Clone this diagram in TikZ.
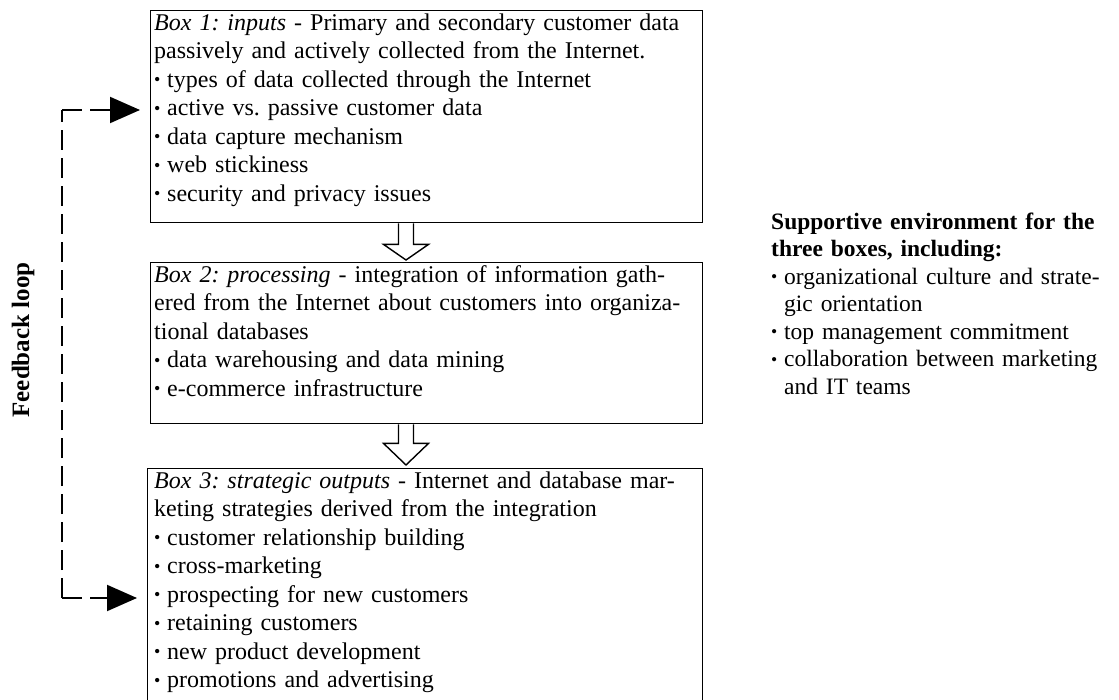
\documentclass[tikz,border=0pt]{standalone}
\usepackage{graphicx}
\usepackage{fontspec}
\setmainfont{Liberation Serif}
\usetikzlibrary{arrows.meta,calc}
\newcommand\bul{\makebox[13pt][l]{\raisebox{1.6pt}{\scalebox{0.75}{•}}}}
\newcommand\jl[1]{\leavevmode\hbox to 544pt{#1}}
\tikzset{
  box/.style={draw, line width=1.4pt, minimum width=552pt, anchor=north west, inner sep=0pt},
  boxtext/.style={anchor=north west, inner sep=0pt, text width=544pt, align=left,
                  font=\fontsize{24}{28.5}\selectfont\frenchspacing},
  fb/.style={line width=2pt, dash pattern=on 20pt off 8pt},
  fbtip/.style={-{Triangle[length=30pt,width=26pt]}, shorten >=10pt},
  hollow/.style={draw, line width=1.4pt, fill=white, line join=miter},
}
\begin{document}
\begin{tikzpicture}[x=1pt,y=-1pt]
\useasboundingbox (0,0) rectangle (1119,700);
\clip (0,0) rectangle (1119,700);

% boxes
\node[box, minimum height=212pt] (b1) at (150,10) {};
\node[box, minimum height=161pt] (b2) at (150,262) {};
\node[box, minimum height=250pt, minimum width=555pt] (b3) at (147,468) {};

\node[boxtext] (t1) at ($(b1.north west)+(4,0)$) {%
\jl{\strut\textit{Box 1: inputs} - Primary and secondary customer data}\\
passively and actively collected from the Internet.\\
\bul types of data collected through the Internet\\
\bul active vs. passive customer data\\
\bul data capture mechanism\\
\bul web stickiness\\
\bul security and privacy issues};

\node[boxtext] (t2) at ($(b2.north west)+(4,0)$) {%
\jl{\strut\textit{Box 2: processing} - integration of information gath-}\\
\jl{ered from the Internet about customers into organiza-}\\
tional databases\\
\bul data warehousing and data mining\\
\bul e-commerce infrastructure};

\node[boxtext] (t3) at ($(b3.north west)+(7,0)$) {%
\jl{\strut\textit{Box 3: strategic outputs} - Internet and database mar-}\\
keting strategies derived from the integration\\
\bul customer relationship building\\
\bul cross-marketing\\
\bul prospecting for new customers\\
\bul retaining customers\\
\bul new product development\\
\bul promotions and advertising};

% right-hand text
\node[anchor=north west, inner sep=0pt, text width=345pt, align=left,
      font=\fontsize{23.5}{27.5}\selectfont\frenchspacing] (env) at (771,209.75) {%
\strut\textbf{Supportive environment for the}\\
\textbf{three boxes, including:}\\
\bul organizational culture and strate-\\
\hspace*{13pt}gic orientation\\
\bul top management commitment\\
\bul collaboration between marketing\\
\hspace*{13pt}and IT teams};

% hollow arrows between boxes
\coordinate (a1) at ($(b1.south west)+(256,0)$);
\coordinate (a1t) at ($(a1 |- b2.north)+(0,-2)$);
\draw[hollow] ($(a1)+(-7.5,0)$) -- ++(0,21) -- ++(-15,0) -- (a1t)
  -- ($(a1)+(22.5,21)$) -- ++(-15,0) -- ($(a1)+(7.5,0)$);
\coordinate (a2) at ($(b2.south west)+(256,0)$);
\coordinate (a2t) at ($(a2 |- b3.north)+(0,-3)$);
\draw[hollow] ($(a2)+(-7.5,0)$) -- ++(0,19) -- ++(-15,0) -- (a2t)
  -- ($(a2)+(22.5,19)$) -- ++(-15,0) -- ($(a2)+(7.5,0)$);

% feedback loop
\coordinate (fbtop) at (62,110);
\coordinate (fbbot) at (62,598);
\draw[fb] (fbbot) -- (fbtop);
\draw[fb, fbtip] (fbtop) -- (b1.west |- fbtop);
\draw[fb, fbtip] (fbbot) -- (b3.west |- fbbot);
\node[rotate=90, font=\fontsize{25}{30}\selectfont\bfseries] (fl) at (23,340) {Feedback loop};
\end{tikzpicture}
\end{document}
